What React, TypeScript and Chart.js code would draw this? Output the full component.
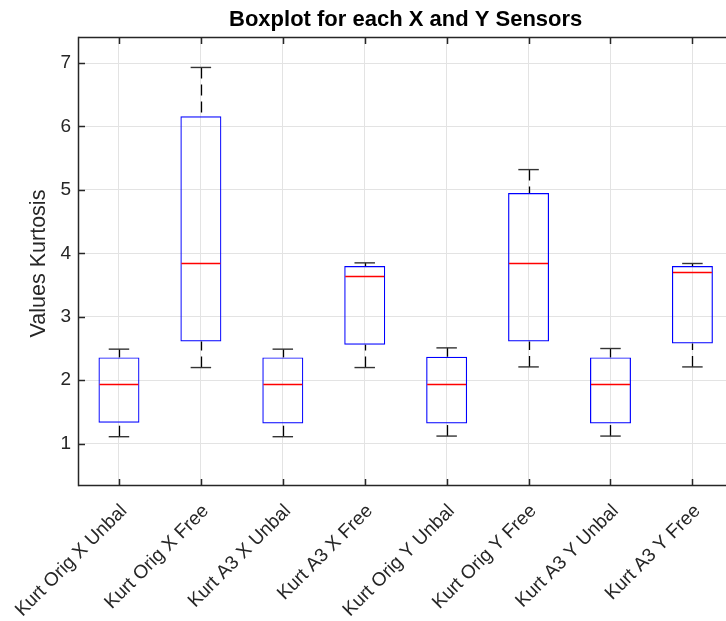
import React, { useEffect, useRef } from "react";
import { Chart, registerables } from "chart.js";

Chart.register(...registerables);

const categories = [
  "Kurt Orig X Unbal",
  "Kurt Orig X Free",
  "Kurt A3 X Unbal",
  "Kurt A3 X Free",
  "Kurt Orig Y Unbal",
  "Kurt Orig Y Free",
  "Kurt A3 Y Unbal",
  "Kurt A3 Y Free",
];
const lowerWhisker = [1.11, 2.2, 1.11, 2.2, 1.12, 2.21, 1.12, 2.21];
const q1 = [1.33, 2.61, 1.32, 2.56, 1.32, 2.61, 1.32, 2.58];
const median = [1.94, 3.85, 1.94, 3.65, 1.94, 3.84, 1.94, 3.7];
const q3 = [2.36, 6.16, 2.36, 3.8, 2.37, 4.95, 2.36, 3.8];
const upperWhisker = [2.49, 6.93, 2.49, 3.85, 2.51, 5.32, 2.5, 3.84];
const yTicks = [1, 2, 3, 4, 5, 6, 7];
const titleText = "Boxplot for each X and Y Sensors";
const yLabelText = "Values Kurtosis";

const FONT = "'Liberation Sans', Arial, Helvetica, sans-serif";
const AXIS = "#262626";

const boxPartsPlugin = {
  id: "boxParts",
  afterDatasetsDraw(chart: any) {
    const { ctx, chartArea } = chart;
    const x = chart.scales.x;
    const y = chart.scales.y;
    const line = (x1: number, y1: number, x2: number, y2: number) => {
      ctx.beginPath();
      ctx.moveTo(x1, y1);
      ctx.lineTo(x2, y2);
      ctx.stroke();
    };
    ctx.save();
    ctx.beginPath();
    ctx.rect(chartArea.left, chartArea.top, chartArea.right - chartArea.left, chartArea.bottom - chartArea.top);
    ctx.clip();
    categories.forEach((_, i) => {
      const cx = Math.round(x.getPixelForValue(i)) + 0.5;
      const capL = x.getPixelForValue(i - 0.125);
      const capR = x.getPixelForValue(i + 0.125);
      const boxL = x.getPixelForValue(i - 0.25);
      const boxR = x.getPixelForValue(i + 0.25);
      // whiskers
      ctx.strokeStyle = "#000000";
      ctx.lineWidth = 1.3;
      ctx.setLineDash([11, 6]);
      line(cx, y.getPixelForValue(upperWhisker[i]), cx, y.getPixelForValue(q3[i]));
      line(cx, y.getPixelForValue(lowerWhisker[i]), cx, y.getPixelForValue(q1[i]));
      ctx.setLineDash([]);
      // caps
      ctx.strokeStyle = "#333333";
      ctx.lineWidth = 1.4;
      line(capL, y.getPixelForValue(upperWhisker[i]), capR, y.getPixelForValue(upperWhisker[i]));
      line(capL, y.getPixelForValue(lowerWhisker[i]), capR, y.getPixelForValue(lowerWhisker[i]));
      // median
      ctx.strokeStyle = "#ff0000";
      ctx.lineWidth = 1.4;
      const my = Math.round(y.getPixelForValue(median[i])) + 0.5;
      line(boxL + 1, my, boxR - 1, my);
    });
    ctx.restore();

    // frame and inward ticks
    ctx.save();
    ctx.strokeStyle = AXIS;
    ctx.lineWidth = 1.5;
    const L = chartArea.left + 0.5;
    const T = chartArea.top + 0.5;
    const B = chartArea.bottom - 0.5;
    const R = chartArea.right;
    line(L, T, R, T);
    line(L, B, R, B);
    line(L, T - 0.75, L, B + 0.75);
    const tl = 6.5;
    categories.forEach((_, i) => {
      const px = Math.round(x.getPixelForValue(i)) + 0.5;
      line(px, B, px, B - tl);
      line(px, T, px, T + tl);
    });
    yTicks.forEach((v) => {
      const py = Math.round(y.getPixelForValue(v)) + 0.5;
      line(L, py, L + tl, py);
    });
    ctx.restore();

    // title and y label
    ctx.save();
    ctx.fillStyle = "#000000";
    ctx.font = `bold 22px ${FONT}`;
    ctx.textAlign = "center";
    ctx.textBaseline = "middle";
    ctx.fillText(titleText, x.getPixelForValue(3.5), 19.5);
    ctx.fillStyle = AXIS;
    ctx.font = `21.5px ${FONT}`;
    ctx.translate(39, (chartArea.top + chartArea.bottom) / 2 + 2);
    ctx.rotate(-Math.PI / 2);
    ctx.fillText(yLabelText, 0, 0);
    ctx.restore();
  },
};

export default function App() {
  const ref = useRef<HTMLCanvasElement | null>(null);
  useEffect(() => {
    if (!ref.current) return;
    const chart = new Chart(ref.current, {
      type: "bar",
      data: {
        datasets: [
          {
            data: categories.map((_, i) => ({ x: i, y: [q1[i], q3[i]] })) as any,
            backgroundColor: "rgba(0,0,0,0)",
            borderColor: "#0000ff",
            borderWidth: 1.2,
            borderSkipped: false,
            categoryPercentage: 1,
            barPercentage: 0.5,
          },
        ],
      },
      options: {
        responsive: false,
        animation: false,
        devicePixelRatio: 1,
        layout: { padding: { top: 37, left: 0, right: 0, bottom: 0 } },
        plugins: {
          legend: { display: false },
          tooltip: { enabled: false },
          title: { display: false },
        },
        scales: {
          x: {
            type: "linear",
            offset: false,
            min: -0.5,
            max: 7.41,
            afterBuildTicks: (s: any) => {
              s.ticks = categories.map((_, i) => ({ value: i }));
            },
            afterFit: (s: any) => {
              s.height = 135;
              s.paddingLeft = 0;
              s.paddingRight = 0;
            },
            grid: { color: "#e3e3e3", drawTicks: false, lineWidth: 1, offset: false },
            border: { display: false },
            ticks: {
              autoSkip: false,
              maxRotation: 45,
              minRotation: 45,
              padding: 14,
              labelOffset: 5,
              color: AXIS,
              font: { family: FONT, size: 19 },
              callback: (v: any) => categories[v as number],
            },
          },
          y: {
            type: "linear",
            min: 0.333,
            max: 7.41,
            afterBuildTicks: (s: any) => {
              s.ticks = yTicks.map((v) => ({ value: v }));
            },
            afterFit: (s: any) => {
              s.width = 78;
              s.paddingTop = 0;
              s.paddingBottom = 0;
            },
            grid: { color: "#e3e3e3", drawTicks: false, lineWidth: 1 },
            border: { display: false },
            ticks: {
              padding: 7,
              color: AXIS,
              font: { family: FONT, size: 19 },
              callback: (v: any) => String(v),
            },
          },
        },
      },
      plugins: [boxPartsPlugin],
    } as any);
    return () => chart.destroy();
  }, []);
  return (
    <div style={{ position: "fixed", left: 0, top: 0, width: 726, height: 621, background: "#ffffff" }}>
      <canvas ref={ref} width={726} height={621} style={{ display: "block" }} />
    </div>
  );
}
